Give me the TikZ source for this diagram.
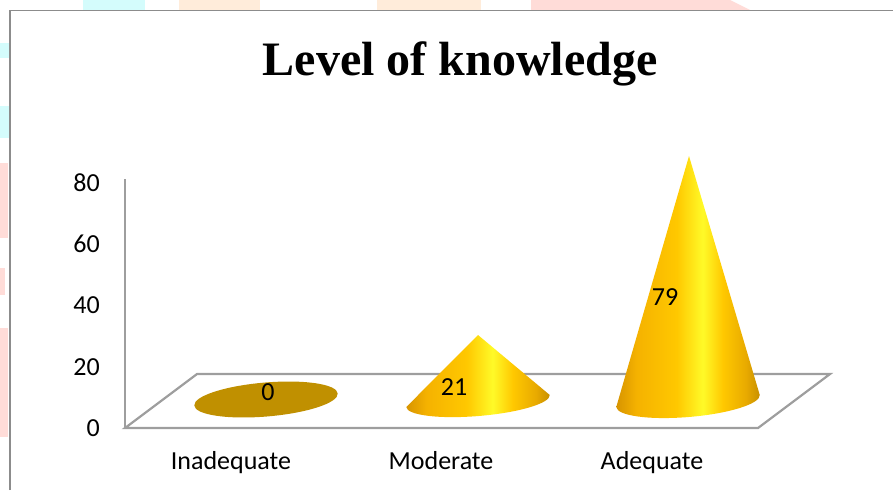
\documentclass[tikz,border=0pt]{standalone}
\usepackage{fontspec}
\setmainfont{Liberation Serif}
\newfontfamily\calib{Carlito}
\usepackage{tikz}
\usetikzlibrary{positioning}
\usepackage{xcolor}
\definecolor{goldA}{RGB}{215,148,0}
\definecolor{goldE}{RGB}{245,178,0}
\definecolor{goldB}{RGB}{255,200,0}
\definecolor{goldC}{RGB}{255,250,40}
\definecolor{goldF}{RGB}{232,170,0}
\definecolor{goldD}{RGB}{198,142,0}
\definecolor{flatgold}{RGB}{192,144,0}
\definecolor{wmcyan}{RGB}{212,252,252}
\definecolor{wmpeach}{RGB}{255,236,218}
\definecolor{wmpink}{RGB}{255,220,216}
% the path box takes the middle half (25bp--75bp) of the shading
\pgfdeclarehorizontalshading{conegold}{100bp}{color(0bp)=(goldA); color(25bp)=(goldA); color(32bp)=(goldE); color(46bp)=(goldB); color(55bp)=(goldC); color(62bp)=(goldB); color(70bp)=(goldF); color(75bp)=(goldD); color(100bp)=(goldD)}

\begin{document}
\begin{tikzpicture}[x=1pt,y=-1pt,
  lbl/.style={font=\calib\fontsize{26}{30}\selectfont, inner sep=0pt},
  gridline/.style={draw=black!38, line width=2.2pt},
  cone/.style={shading=conegold}]
\useasboundingbox (0,0) rectangle (893,490);
% faint marks behind the frame
\fill[wmcyan] (83,0) rectangle (145,10);
\fill[wmpeach] (179,0) rectangle (260,10);
\fill[wmpeach] (377,0) rectangle (481,10);
\fill[wmpink] (531,0) -- (730,0) -- (750,10) -- (531,10) -- cycle;
\fill[wmcyan] (0,43) rectangle (9,58);
\fill[wmcyan] (0,106) rectangle (9,138);
\fill[wmpink] (0,163) rectangle (8,238);
\fill[wmpink] (0,268) rectangle (5,295);
\fill[wmpink] (0,328) rectangle (8,437);
% chart frame
\draw[black!45, line width=1.2pt] (10,490) -- (10,10.5) -- (893,10.5);
% title
\node[anchor=base, inner sep=0pt, font=\bfseries\fontsize{48}{56}\selectfont] (title) at (460,75) {Level of knowledge};
% axis and floor
\coordinate (o) at (125,428);
\coordinate (ytop) at (125,179);
\coordinate (fr) at (758,428);
\coordinate (br) at (830,374);
\coordinate (bl) at (197,374);
\draw[gridline] (ytop) -- (o);
\draw[gridline, line join=miter] (o) -- (fr) -- (br) -- (bl) -- cycle;
\foreach \v in {0,20,40,60,80}
  \node[lbl, anchor=east] (t\v) at (100,428-3.065*\v) {\v};
% Inadequate: flat disc
\fill[flatgold, rotate around={4.8:(266,399.5)}] (266,399.5) ellipse[x radius=72, y radius=17];
% Moderate cone
\coordinate (tipM) at (478,335);
\begin{scope}[shift={(478,401)}, rotate=4.8]
\shade[cone] (tipM) -- (-72,0) arc[start angle=180, end angle=0, x radius=72, y radius=15] -- cycle;
\end{scope}
% Adequate cone
\coordinate (tipA) at (689,156);
\begin{scope}[shift={(688,401)}, rotate=4.8]
\shade[cone] (tipA) -- (-72,0) arc[start angle=180, end angle=0, x radius=72, y radius=16] -- cycle;
\end{scope}
% data labels
\node[lbl] (v0) at (268,392) {0};
\node[lbl] (v21) at (454,387) {21};
\node[lbl] (v79) at (665,297) {79};
% categories
\node[lbl, anchor=base] (inad) at (231,469) {Inadequate};
\node[lbl, anchor=base] (mod) at (441,469) {Moderate};
\node[lbl, anchor=base] (adeq) at (652,469) {Adequate};
\end{tikzpicture}
\end{document}
